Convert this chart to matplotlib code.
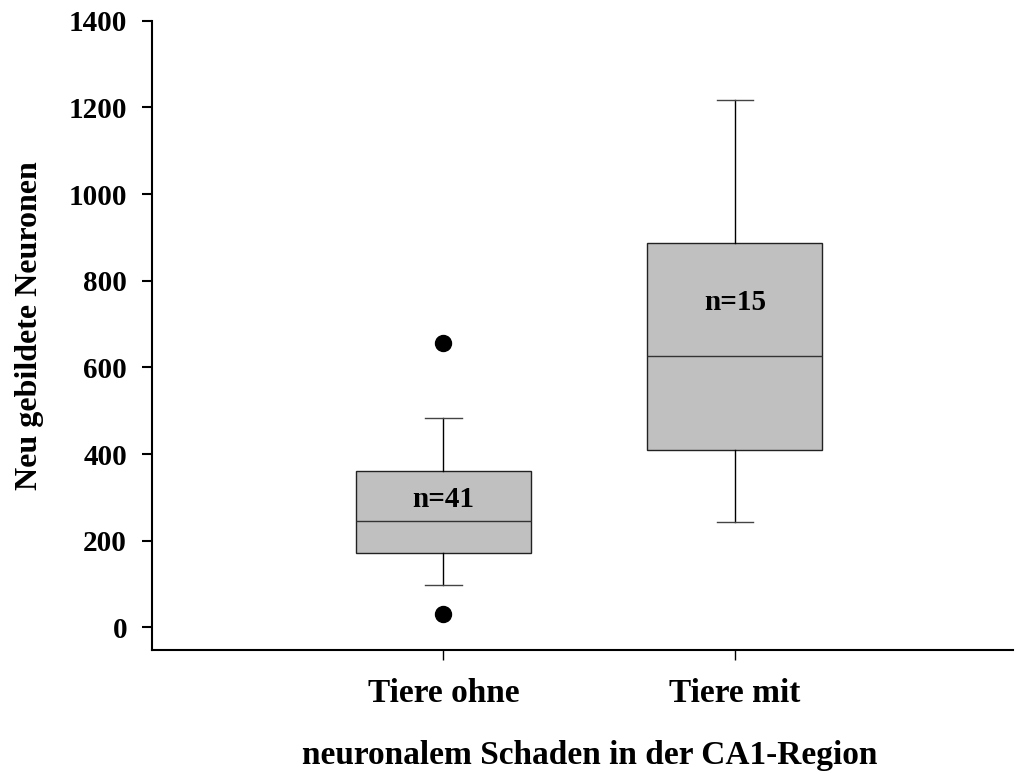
import matplotlib
matplotlib.use("Agg")
import matplotlib.pyplot as plt
from matplotlib.transforms import blended_transform_factory

# ---- data ----
groups = ["Tiere ohne", "Tiere mit"]
n_labels = ["n=41", "n=15"]
n_label_y = [294, 749]
q1 = [171, 409]
medians = [246, 626]
q3 = [362, 886]
whisk_lo = [97, 243]
whisk_hi = [484, 1216]
outliers = [[657, 32], []]
yticks = [0, 200, 400, 600, 800, 1000, 1200, 1400]

serif = ["Liberation Serif", "DejaVu Serif"]
plt.rcParams["font.family"] = serif
plt.rcParams["font.weight"] = "bold"

fig = plt.figure(figsize=(10.15, 7.72), dpi=100)
ax = fig.add_axes([152 / 1015, 1 - 649.7 / 772, (1013 - 152) / 1015, (649.7 - 20.7) / 772])

stats = []
for i in range(len(groups)):
    stats.append(dict(med=medians[i], q1=q1[i], q3=q3[i],
                      whislo=whisk_lo[i], whishi=whisk_hi[i],
                      fliers=outliers[i], label=groups[i]))

positions = [1, 2]
ax.bxp(stats, positions=positions, widths=0.6, capwidths=0.125,
       patch_artist=True, showfliers=True,
       boxprops=dict(facecolor="#c0c0c0", edgecolor="#222222", linewidth=1.0),
       medianprops=dict(color="#333333", linewidth=1.0),
       whiskerprops=dict(color="black", linewidth=1.0),
       capprops=dict(color="#444444", linewidth=1.0),
       flierprops=dict(marker="o", markerfacecolor="black", markeredgecolor="black",
                       markersize=11.5, linestyle="none"))

for x, lab, yy in zip(positions, n_labels, n_label_y):
    ax.text(x, yy, lab, ha="center", va="center", fontsize=21, fontweight="bold")

ax.set_xlim(0, 2.954)
ax.set_ylim(-51.5, 1400)
ax.set_yticks(yticks)
ax.set_yticklabels([str(t) for t in yticks], fontsize=21, fontweight="bold")
ax.set_xticks(positions)
ax.set_xticklabels(groups, fontsize=24, fontweight="bold")

for side in ["top", "right"]:
    ax.spines[side].set_visible(False)
for side in ["left", "bottom"]:
    ax.spines[side].set_linewidth(1.5)

ax.tick_params(axis="y", direction="out", length=7, width=1.5, pad=11)
ax.tick_params(axis="x", direction="out", length=7.5, width=1.0, pad=13)

ax.set_ylabel("Neu gebildete Neuronen", fontsize=23, fontweight="bold", va="center")
ax.yaxis.set_label_coords(-0.1417, 0.516)

trans = blended_transform_factory(ax.transData, fig.transFigure)
ax.text(1.5, 8 / 772, "neuronalem Schaden in der CA1-Region", transform=trans,
        ha="center", va="baseline", fontsize=24, fontweight="bold")

fig.savefig("out.png", dpi=100)
